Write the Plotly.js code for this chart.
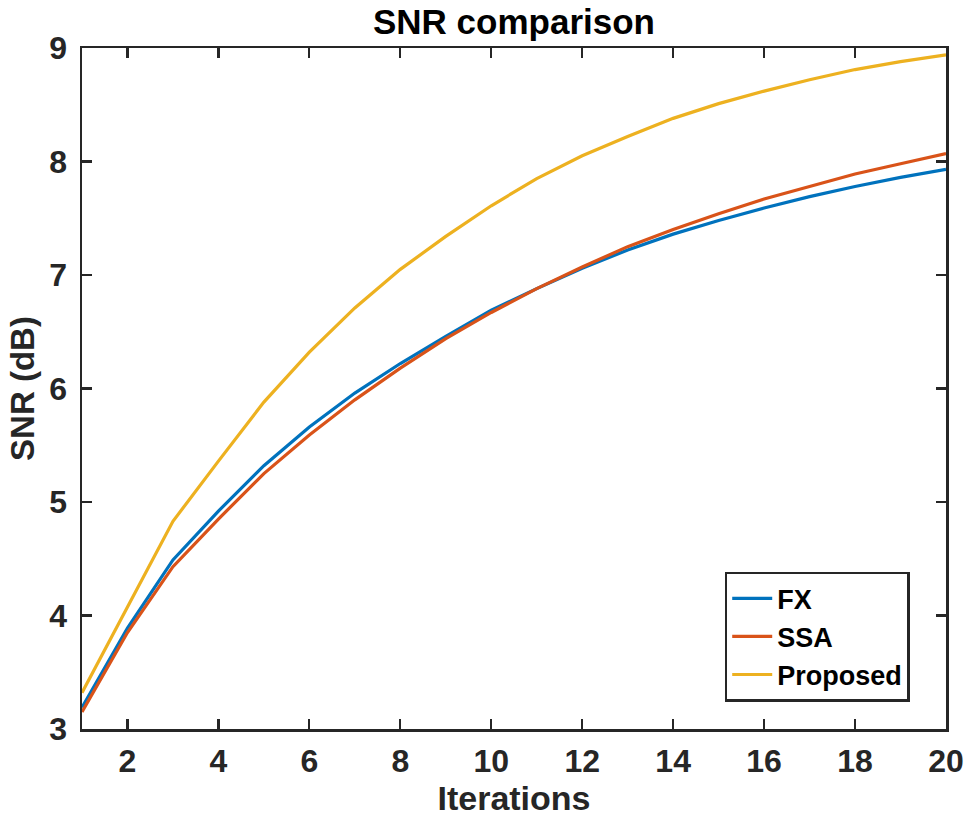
<!DOCTYPE html>
<html>
<head>
<meta charset="utf-8">
<script src="https://cdn.plot.ly/plotly-3.0.1.min.js"></script>
<style>html,body{margin:0;padding:0;background:#fff;}#chart{width:966px;height:821px;}</style>
</head>
<body>
<div id="chart"></div>
<script>
const iterations = [1,2,3,4,5,6,7,8,9,10,11,12,13,14,15,16,17,18,19,20];
const fxSNR       = [3.19,3.89,4.49,4.92,5.32,5.66,5.96,6.22,6.46,6.69,6.88,7.06,7.22,7.36,7.48,7.59,7.69,7.78,7.86,7.93];
const ssaSNR      = [3.15,3.85,4.43,4.85,5.25,5.59,5.90,6.18,6.44,6.67,6.88,7.07,7.25,7.40,7.54,7.67,7.78,7.89,7.98,8.07];
const proposedSNR = [3.32,4.08,4.83,5.36,5.88,6.32,6.71,7.05,7.34,7.61,7.85,8.05,8.22,8.38,8.51,8.62,8.72,8.81,8.88,8.94];
const seriesNames = ['FX','SSA','Proposed'];
const xTicks = [2,4,6,8,10,12,14,16,18,20];
const yTicks = [3,4,5,6,7,8,9];

const colors = ['#0072BD','#D95319','#EDB120'];
const ys = [fxSNR, ssaSNR, proposedSNR];
const FONT = '"Liberation Sans", Arial, Helvetica, sans-serif';
const traces = ys.map((y,i)=>({
  x: iterations, y: y, name: seriesNames[i], type:'scatter', mode:'lines',
  line:{color:colors[i], width:3.2}
}));

const axisCommon = {
  showgrid:false, zeroline:false, showline:true, linecolor:'#262626', linewidth:2.5,
  mirror:'ticks', ticks:'inside', ticklen:10, tickwidth:2.2, tickcolor:'#262626',
  tickfont:{family:FONT, size:32, color:'#262626', weight:'bold'}
};

const layout = {
  width:966, height:821,
  margin:{l:82, r:20, t:48, b:92},
  paper_bgcolor:'#fff', plot_bgcolor:'#fff',
  font:{family:FONT, color:'#000'},
  title:{text:'<b>SNR comparison</b>', font:{family:FONT, size:35, color:'#000'},
         x:0.5, xanchor:'center', xref:'paper', y:0.974, yanchor:'middle', yref:'container'},
  xaxis:Object.assign({}, axisCommon, {
    range:[1,20], tickvals:xTicks, ticktext:xTicks.map(String), ticklabelstandoff:2,
    title:{text:'<b>Iterations</b>', font:{family:FONT, size:34, color:'#262626'}, standoff:4}
  }),
  yaxis:Object.assign({}, axisCommon, {
    range:[3,9], tickvals:yTicks, ticktext:yTicks.map(String), ticklabelstandoff:6,
    title:{text:'<b>SNR (dB)</b>', font:{family:FONT, size:33, color:'#262626'}, standoff:5}
  }),
  showlegend:true,
  legend:{x:0.958, xanchor:'right', y:0.04, yanchor:'bottom',
    bgcolor:'#fff', bordercolor:'#262626', borderwidth:2.5,
    font:{family:FONT, size:27, color:'#000', weight:'bold'},
    tracegroupgap:0, itemwidth:40}
};

Plotly.newPlot('chart', traces, layout, {displayModeBar:false, staticPlot:true});
</script>
</body>
</html>
